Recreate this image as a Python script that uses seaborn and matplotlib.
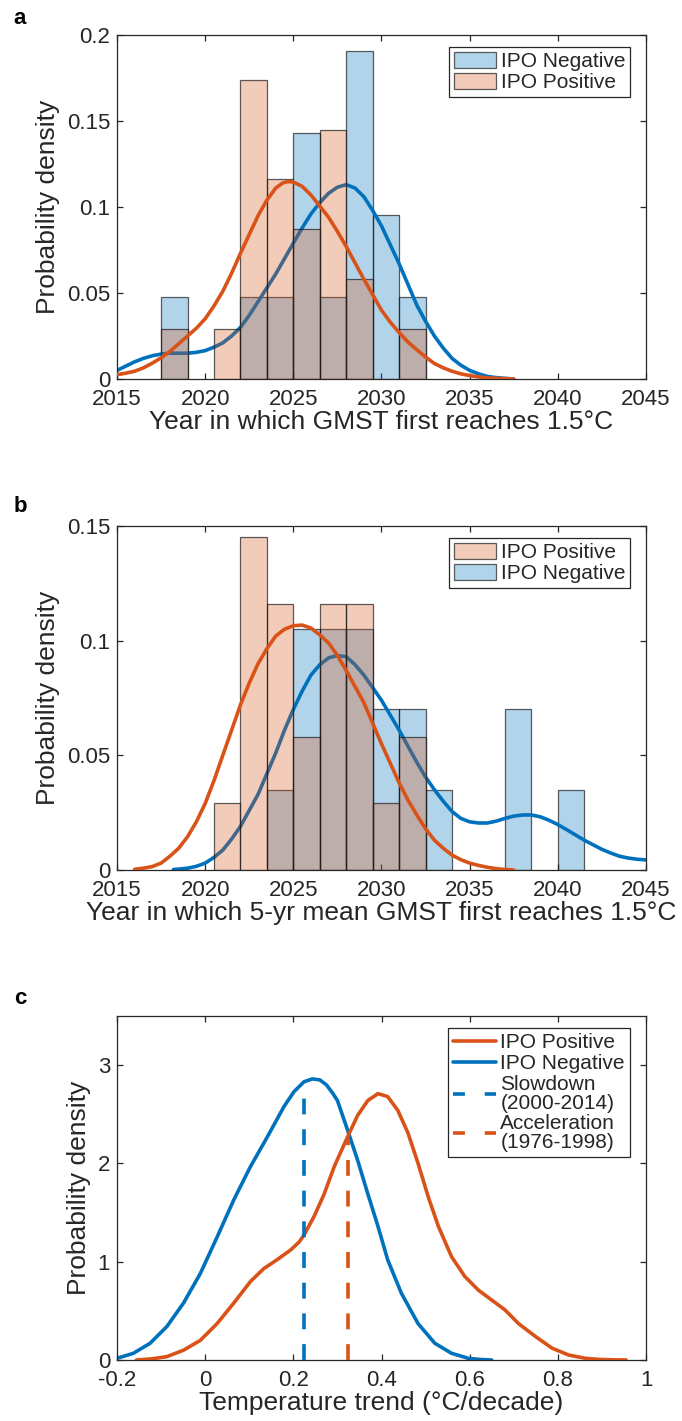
import numpy as np
import pandas as pd
import matplotlib
matplotlib.use("Agg")
import matplotlib.pyplot as plt
import seaborn as sns
from matplotlib.patches import Patch
from matplotlib.lines import Line2D
from matplotlib.colors import to_rgba

# ---------------- data ----------------
bin_edges = [2017.5, 2019.0, 2020.5, 2022.0, 2023.5, 2025.0, 2026.5, 2028.0,
             2029.5, 2031.0, 2032.5, 2034.0, 2035.5, 2037.0, 2038.5, 2040.0, 2041.5]

# panel a: histogram densities per bin
a_neg_density = [0.0476, 0, 0, 0.0476, 0.0476, 0.1429, 0.0476, 0.1905,
                 0.0952, 0.0476, 0, 0, 0, 0, 0, 0]
a_pos_density = [0.029, 0, 0.029, 0.174, 0.116, 0.087, 0.145, 0.058,
                 0, 0.029, 0, 0, 0, 0, 0, 0]

# panel b: histogram densities per bin
b_pos_density = [0, 0, 0.029, 0.145, 0.116, 0.058, 0.116, 0.116,
                 0.029, 0.058, 0, 0, 0, 0, 0, 0]
b_neg_density = [0, 0, 0, 0, 0.035, 0.105, 0.105, 0.105,
                 0.070, 0.070, 0.035, 0, 0, 0.070, 0, 0.035]

# panel a: fitted density curves
a_pos_x = [2015, 2015.5, 2016, 2016.5, 2017, 2017.5, 2018, 2018.5, 2019, 2019.5,
           2020, 2020.5, 2021, 2021.5, 2022, 2022.5, 2023, 2023.5, 2024, 2024.4,
           2024.7, 2025, 2025.5, 2026, 2026.5, 2027, 2027.5, 2028, 2028.5, 2029,
           2029.5, 2030, 2030.5, 2031, 2031.5, 2032, 2032.5, 2033, 2033.5, 2034,
           2034.5, 2035, 2035.5, 2036, 2036.5, 2037, 2037.5]
a_pos_y = [0.0025, 0.0034, 0.0045, 0.0065, 0.0092, 0.0123, 0.016, 0.0205, 0.025, 0.0295,
           0.035, 0.0425, 0.051, 0.0615, 0.073, 0.084, 0.095, 0.104, 0.111, 0.1140,
           0.1148, 0.1145, 0.112, 0.107, 0.1005, 0.094, 0.0858, 0.077, 0.0675, 0.058,
           0.049, 0.040, 0.033, 0.027, 0.0215, 0.017, 0.0128, 0.009, 0.0065, 0.0045,
           0.003, 0.002, 0.0012, 0.0007, 0.0004, 0.0001, 0.0]
a_neg_x = [2015, 2015.5, 2016, 2016.5, 2017, 2017.5, 2018, 2018.5, 2019, 2019.5,
           2020, 2020.5, 2021, 2021.5, 2022, 2022.5, 2023, 2023.5, 2024, 2024.5,
           2025, 2025.5, 2026, 2026.5, 2027, 2027.5, 2028, 2028.5, 2029, 2029.5,
           2030, 2030.5, 2031, 2031.5, 2032, 2032.5, 2033, 2033.5, 2034, 2034.5,
           2035, 2035.5, 2036, 2036.5, 2037, 2037.5]
a_neg_y = [0.005, 0.0075, 0.010, 0.012, 0.0135, 0.0145, 0.015, 0.015, 0.015, 0.0155,
           0.0165, 0.0185, 0.021, 0.025, 0.030, 0.037, 0.045, 0.053, 0.061, 0.070,
           0.079, 0.0878, 0.096, 0.1025, 0.108, 0.1115, 0.113, 0.111, 0.106, 0.098,
           0.089, 0.078, 0.067, 0.055, 0.043, 0.0335, 0.025, 0.018, 0.012, 0.008,
           0.005, 0.003, 0.0015, 0.0008, 0.0004, 0.0]

# panel b: fitted density curves
b_pos_x = [2016, 2016.5, 2017, 2017.5, 2018, 2018.5, 2019, 2019.5, 2020, 2020.5,
           2021, 2021.5, 2022, 2022.5, 2023, 2023.5, 2024, 2024.5, 2025, 2025.5,
           2026, 2026.5, 2027, 2027.5, 2028, 2028.5, 2029, 2029.5, 2030, 2030.5,
           2031, 2031.5, 2032, 2032.5, 2033, 2033.5, 2034, 2034.5, 2035, 2035.5,
           2036, 2036.5, 2037, 2037.5]
b_pos_y = [0.0003, 0.0008, 0.0015, 0.003, 0.006, 0.0095, 0.0145, 0.021, 0.029, 0.039,
           0.050, 0.061, 0.072, 0.0815, 0.090, 0.0965, 0.102, 0.105, 0.1065, 0.1068,
           0.1055, 0.1025, 0.099, 0.0935, 0.087, 0.080, 0.073, 0.064, 0.055, 0.0465,
           0.038, 0.0305, 0.024, 0.018, 0.013, 0.0095, 0.0065, 0.0045, 0.003, 0.002,
           0.0012, 0.0006, 0.0002, 0.0]
b_neg_x = [2018.2, 2018.5, 2019, 2019.5, 2020, 2020.5, 2021, 2021.5, 2022, 2022.5,
           2023, 2023.5, 2024, 2024.5, 2025, 2025.5, 2026, 2026.5, 2027, 2027.5,
           2028, 2028.5, 2029, 2029.5, 2030, 2030.5, 2031, 2031.5, 2032, 2032.5,
           2033, 2033.5, 2034, 2034.5, 2035, 2035.5, 2036, 2036.5, 2037, 2037.5,
           2038, 2038.5, 2039, 2039.5, 2040, 2040.5, 2041, 2041.5, 2042, 2042.5,
           2043, 2043.5, 2044, 2044.5, 2045]
b_neg_y = [0.0002, 0.0004, 0.0008, 0.0016, 0.003, 0.0055, 0.0087, 0.0135, 0.019, 0.026,
           0.033, 0.042, 0.051, 0.061, 0.070, 0.078, 0.085, 0.0895, 0.0925, 0.0935,
           0.093, 0.0895, 0.085, 0.0795, 0.074, 0.0675, 0.061, 0.054, 0.047, 0.0405,
           0.035, 0.030, 0.0255, 0.0225, 0.021, 0.0205, 0.0205, 0.0213, 0.0225, 0.0235,
           0.024, 0.024, 0.0232, 0.0217, 0.0198, 0.0176, 0.0153, 0.013, 0.011, 0.009,
           0.0074, 0.006, 0.0052, 0.0047, 0.0044]

# panel c: temperature-trend density curves
c_pos_x = [-0.156, -0.12, -0.087, -0.049, -0.011, 0.027, 0.065, 0.103, 0.133, 0.163,
           0.194, 0.213, 0.224, 0.247, 0.27, 0.293, 0.323, 0.346, 0.369, 0.392,
           0.414, 0.437, 0.46, 0.483, 0.506, 0.529, 0.559, 0.589, 0.62, 0.65,
           0.68, 0.711, 0.749, 0.787, 0.825, 0.863, 0.894, 0.925, 0.955]
c_pos_y = [0.0, 0.012, 0.034, 0.10, 0.20, 0.37, 0.58, 0.80, 0.93, 1.02,
           1.12, 1.20, 1.27, 1.46, 1.69, 1.97, 2.27, 2.49, 2.64, 2.71,
           2.68, 2.54, 2.31, 2.00, 1.66, 1.36, 1.05, 0.85, 0.71, 0.61,
           0.51, 0.37, 0.24, 0.12, 0.05, 0.017, 0.006, 0.002, 0.0]
c_neg_x = [-0.2, -0.163, -0.125, -0.087, -0.049, -0.011, 0.027, 0.065, 0.103, 0.141,
           0.179, 0.2015, 0.224, 0.243, 0.26, 0.275, 0.29, 0.30, 0.323, 0.346,
           0.369, 0.392, 0.414, 0.445, 0.483, 0.521, 0.559, 0.597, 0.625, 0.65]
c_neg_y = [0.017, 0.068, 0.17, 0.34, 0.58, 0.88, 1.25, 1.63, 1.97, 2.27,
           2.58, 2.73, 2.83, 2.86, 2.85, 2.80, 2.71, 2.64, 2.34, 2.03,
           1.69, 1.36, 1.02, 0.68, 0.37, 0.17, 0.068, 0.017, 0.005, 0.0]

# observed trends (dashed markers)
slowdown_trend = 0.224
slowdown_height = 2.68
accel_trend = 0.323
accel_height = 2.25

xticks_ab = [2015, 2020, 2025, 2030, 2035, 2040, 2045]
yticks_a = [0, 0.05, 0.1, 0.15, 0.2]
ytick_labels_a = ["0", "0.05", "0.1", "0.15", "0.2"]
yticks_b = [0, 0.05, 0.1, 0.15]
ytick_labels_b = ["0", "0.05", "0.1", "0.15"]
xticks_c = [-0.2, 0, 0.2, 0.4, 0.6, 0.8, 1]
xtick_labels_c = ["-0.2", "0", "0.2", "0.4", "0.6", "0.8", "1"]
yticks_c = [0, 1, 2, 3]
ytick_labels_c = ["0", "1", "2", "3"]

# ---------------- style ----------------
sns.set_theme(style="ticks")
plt.rcParams["font.family"] = ["Liberation Sans", "DejaVu Sans"]
plt.rcParams["text.color"] = "#262626"
plt.rcParams["axes.labelcolor"] = "#262626"

BLUE = "#0072BD"
ORANGE = "#D95319"
DARK = "#262626"
LW = 2.6
TICK_FS = 16
LABEL_FS = 19
LEG_FS = 15

fig = plt.figure(figsize=(6.82, 14.21), dpi=100)
L, W, H = 117 / 682, 529 / 682, 344 / 1421
ax_a = fig.add_axes([L, 1 - 379 / 1421, W, H])
ax_b = fig.add_axes([L, 1 - 870 / 1421, W, H])
ax_c = fig.add_axes([L, 1 - 1360 / 1421, W, H])

centers = [(bin_edges[i] + bin_edges[i + 1]) / 2 for i in range(len(bin_edges) - 1)]


def hist(ax, dens, color, z):
    n0 = len(ax.patches)
    sns.histplot(x=centers, weights=dens, bins=bin_edges, stat="count", ax=ax,
                 color=color, element="bars", fill=True, legend=False)
    for p in ax.patches[n0:]:
        p.set_alpha(None)
        p.set_facecolor(to_rgba(color, 0.3))
        p.set_edgecolor((0.1, 0.1, 0.1, 0.7))
        p.set_linewidth(0.9)
        p.set_zorder(z)
        if p.get_height() <= 0:
            p.set_visible(False)


def curve(ax, x, y, color, z, ls="-"):
    n0 = len(ax.lines)
    sns.lineplot(x=x, y=y, ax=ax, color=color, linewidth=LW, estimator=None,
                 sort=False, legend=False)
    for ln in ax.lines[n0:]:
        ln.set_zorder(z)
        ln.set_solid_joinstyle("round")
        if ls == "--":
            ln.set_dashes([4.4, 4.1])
            ln.set_dash_capstyle("butt")
    return ax.lines[-1]


def style(ax, xlim, ylim, xt, xtl, yt, ytl, xlabel):
    ax.set_xlim(*xlim)
    ax.set_ylim(*ylim)
    ax.set_xticks(xt)
    ax.set_xticklabels(xtl)
    ax.set_yticks(yt)
    ax.set_yticklabels(ytl)
    ax.tick_params(direction="in", length=4.5, width=0.9, top=True, right=True,
                   labelsize=TICK_FS, colors=DARK)
    ax.tick_params(axis="x", pad=7.5)
    ax.tick_params(axis="y", pad=5)
    for s in ax.spines.values():
        s.set_visible(True)
        s.set_color(DARK)
        s.set_linewidth(0.9)
    ax.set_xlabel(xlabel, fontsize=LABEL_FS, labelpad=0)
    ax.set_ylabel("Probability density", fontsize=LABEL_FS, labelpad=5)
    ax.grid(False)


def hist_legend(ax, order):
    handles = []
    labels = []
    for name, color in order:
        handles.append(Patch(facecolor=to_rgba(color, 0.3),
                             edgecolor=(0.1, 0.1, 0.1, 0.7), linewidth=0.9))
        labels.append(name)
    leg = ax.legend(handles, labels, loc="upper right",
                    bbox_to_anchor=(1 - 16 / 529, 1 - 12 / 344), borderaxespad=0,
                    fontsize=LEG_FS, frameon=True, fancybox=False, framealpha=1,
                    edgecolor=DARK, handlelength=2.0, handleheight=0.85,
                    handletextpad=0.25, labelspacing=0.08, borderpad=0.22)
    leg.get_frame().set_linewidth(0.9)
    leg.set_zorder(10)


# ---------------- panel a ----------------
hist(ax_a, a_neg_density, BLUE, 1)
curve(ax_a, a_neg_x, a_neg_y, BLUE, 2)
hist(ax_a, a_pos_density, ORANGE, 3)
curve(ax_a, a_pos_x, a_pos_y, ORANGE, 4)
style(ax_a, (2015, 2045), (0, 0.2), xticks_ab, [str(v) for v in xticks_ab],
      yticks_a, ytick_labels_a, "Year in which GMST first reaches 1.5°C")
hist_legend(ax_a, [("IPO Negative", BLUE), ("IPO Positive", ORANGE)])

# ---------------- panel b ----------------
hist(ax_b, b_neg_density, BLUE, 1)
curve(ax_b, b_neg_x, b_neg_y, BLUE, 2)
hist(ax_b, b_pos_density, ORANGE, 3)
curve(ax_b, b_pos_x, b_pos_y, ORANGE, 4)
style(ax_b, (2015, 2045), (0, 0.15), xticks_ab, [str(v) for v in xticks_ab],
      yticks_b, ytick_labels_b, "Year in which 5-yr mean GMST first reaches 1.5°C")
hist_legend(ax_b, [("IPO Positive", ORANGE), ("IPO Negative", BLUE)])

# ---------------- panel c ----------------
curve(ax_c, c_neg_x, c_neg_y, BLUE, 2)
curve(ax_c, c_pos_x, c_pos_y, ORANGE, 3)
curve(ax_c, [slowdown_trend, slowdown_trend], [0, slowdown_height], BLUE, 4, ls="--")
curve(ax_c, [accel_trend, accel_trend], [0, accel_height], ORANGE, 4, ls="--")
style(ax_c, (-0.2, 1.0), (0, 3.5), xticks_c, xtick_labels_c, yticks_c,
      ytick_labels_c, "Temperature trend (°C/decade)")

hdl = [Line2D([], [], color=ORANGE, lw=LW),
       Line2D([], [], color=BLUE, lw=LW),
       Line2D([], [], color=BLUE, lw=LW, dashes=[3.3, 5.5]),
       Line2D([], [], color=ORANGE, lw=LW, dashes=[3.3, 5.5])]
lab = ["IPO Positive", "IPO Negative", "Slowdown\n(2000-2014)", "Acceleration\n(1976-1998)"]
leg = ax_c.legend(hdl, lab, loc="upper right", bbox_to_anchor=(1 - 16 / 529, 1 - 12 / 344),
                  borderaxespad=0, fontsize=LEG_FS, frameon=True, fancybox=False,
                  framealpha=1, edgecolor=DARK, handlelength=2.05, handletextpad=0.2,
                  labelspacing=0.08, borderpad=0.25)
leg.get_frame().set_linewidth(0.9)
for t in leg.get_texts():
    t.set_linespacing(1.0)

# panel letters
for letter, ypx in [("a", 19), ("b", 507), ("c", 998)]:
    fig.text(20 / 682, 1 - ypx / 1421, letter, fontsize=16, fontweight="bold",
             ha="center", va="center", color="black")

fig.savefig("out.png", dpi=100)
